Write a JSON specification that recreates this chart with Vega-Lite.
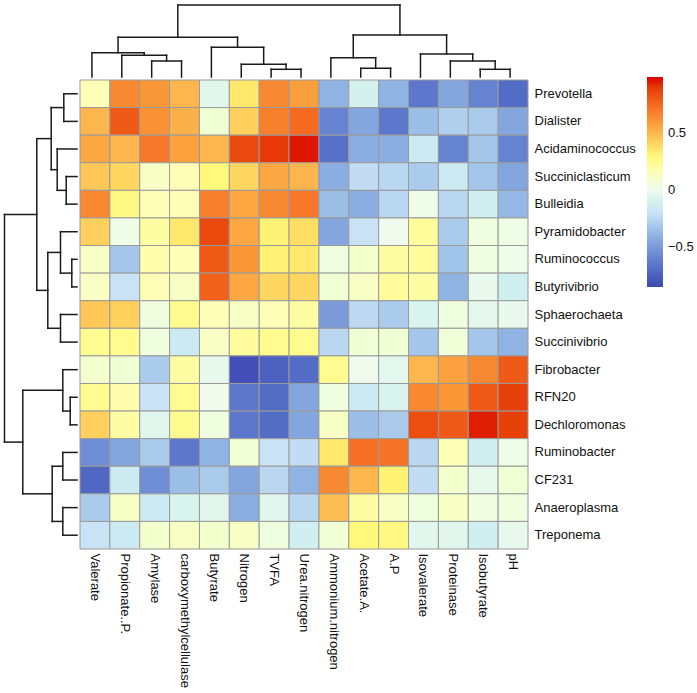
{
  "$schema": "https://vega.github.io/schema/vega-lite/v6.json",
  "background": "white",
  "padding": 0,
  "config": {
    "view": {"stroke": null},
    "concat": {"spacing": 0},
    "font": "Liberation Sans"
  },
  "datasets": {
    "cells": [
      {"r":"Prevotella","c":"Valerate","v":0.15},{"r":"Prevotella","c":"Propionate..P.","v":0.65},{"r":"Prevotella","c":"Amylase","v":0.6},{"r":"Prevotella","c":"carboxymethylcellulase","v":0.5},{"r":"Prevotella","c":"Butyrate","v":-0.05},{"r":"Prevotella","c":"Nitrogen","v":0.35},{"r":"Prevotella","c":"TVFA","v":0.65},{"r":"Prevotella","c":"Urea.nitrogen","v":0.58},{"r":"Prevotella","c":"Ammonium.nitrogen","v":-0.4},{"r":"Prevotella","c":"Acetate.A.","v":-0.1},{"r":"Prevotella","c":"A.P","v":-0.4},{"r":"Prevotella","c":"Isovalerate","v":-0.65},{"r":"Prevotella","c":"Proteinase","v":-0.45},{"r":"Prevotella","c":"Isobutyrate","v":-0.6},{"r":"Prevotella","c":"pH","v":-0.7},
      {"r":"Dialister","c":"Valerate","v":0.5},{"r":"Dialister","c":"Propionate..P.","v":0.8},{"r":"Dialister","c":"Amylase","v":0.62},{"r":"Dialister","c":"carboxymethylcellulase","v":0.52},{"r":"Dialister","c":"Butyrate","v":0.08},{"r":"Dialister","c":"Nitrogen","v":0.42},{"r":"Dialister","c":"TVFA","v":0.68},{"r":"Dialister","c":"Urea.nitrogen","v":0.75},{"r":"Dialister","c":"Ammonium.nitrogen","v":-0.6},{"r":"Dialister","c":"Acetate.A.","v":-0.45},{"r":"Dialister","c":"A.P","v":-0.65},{"r":"Dialister","c":"Isovalerate","v":-0.35},{"r":"Dialister","c":"Proteinase","v":-0.28},{"r":"Dialister","c":"Isobutyrate","v":-0.3},{"r":"Dialister","c":"pH","v":-0.45},
      {"r":"Acidaminococcus","c":"Valerate","v":0.55},{"r":"Acidaminococcus","c":"Propionate..P.","v":0.5},{"r":"Acidaminococcus","c":"Amylase","v":0.7},{"r":"Acidaminococcus","c":"carboxymethylcellulase","v":0.57},{"r":"Acidaminococcus","c":"Butyrate","v":0.5},{"r":"Acidaminococcus","c":"Nitrogen","v":0.85},{"r":"Acidaminococcus","c":"TVFA","v":0.9},{"r":"Acidaminococcus","c":"Urea.nitrogen","v":0.97},{"r":"Acidaminococcus","c":"Ammonium.nitrogen","v":-0.68},{"r":"Acidaminococcus","c":"Acetate.A.","v":-0.42},{"r":"Acidaminococcus","c":"A.P","v":-0.42},{"r":"Acidaminococcus","c":"Isovalerate","v":-0.15},{"r":"Acidaminococcus","c":"Proteinase","v":-0.6},{"r":"Acidaminococcus","c":"Isobutyrate","v":-0.32},{"r":"Acidaminococcus","c":"pH","v":-0.6},
      {"r":"Succiniclasticum","c":"Valerate","v":0.45},{"r":"Succiniclasticum","c":"Propionate..P.","v":0.4},{"r":"Succiniclasticum","c":"Amylase","v":0.12},{"r":"Succiniclasticum","c":"carboxymethylcellulase","v":0.15},{"r":"Succiniclasticum","c":"Butyrate","v":0.3},{"r":"Succiniclasticum","c":"Nitrogen","v":0.4},{"r":"Succiniclasticum","c":"TVFA","v":0.55},{"r":"Succiniclasticum","c":"Urea.nitrogen","v":0.5},{"r":"Succiniclasticum","c":"Ammonium.nitrogen","v":-0.42},{"r":"Succiniclasticum","c":"Acetate.A.","v":-0.22},{"r":"Succiniclasticum","c":"A.P","v":-0.25},{"r":"Succiniclasticum","c":"Isovalerate","v":-0.3},{"r":"Succiniclasticum","c":"Proteinase","v":-0.15},{"r":"Succiniclasticum","c":"Isobutyrate","v":-0.32},{"r":"Succiniclasticum","c":"pH","v":-0.45},
      {"r":"Bulleidia","c":"Valerate","v":0.65},{"r":"Bulleidia","c":"Propionate..P.","v":0.28},{"r":"Bulleidia","c":"Amylase","v":0.15},{"r":"Bulleidia","c":"carboxymethylcellulase","v":0.15},{"r":"Bulleidia","c":"Butyrate","v":0.68},{"r":"Bulleidia","c":"Nitrogen","v":0.55},{"r":"Bulleidia","c":"TVFA","v":0.65},{"r":"Bulleidia","c":"Urea.nitrogen","v":0.7},{"r":"Bulleidia","c":"Ammonium.nitrogen","v":-0.35},{"r":"Bulleidia","c":"Acetate.A.","v":-0.42},{"r":"Bulleidia","c":"A.P","v":-0.25},{"r":"Bulleidia","c":"Isovalerate","v":0.02},{"r":"Bulleidia","c":"Proteinase","v":-0.25},{"r":"Bulleidia","c":"Isobutyrate","v":-0.12},{"r":"Bulleidia","c":"pH","v":-0.38},
      {"r":"Pyramidobacter","c":"Valerate","v":0.42},{"r":"Pyramidobacter","c":"Propionate..P.","v":0.03},{"r":"Pyramidobacter","c":"Amylase","v":0.2},{"r":"Pyramidobacter","c":"carboxymethylcellulase","v":0.35},{"r":"Pyramidobacter","c":"Butyrate","v":0.85},{"r":"Pyramidobacter","c":"Nitrogen","v":0.55},{"r":"Pyramidobacter","c":"TVFA","v":0.32},{"r":"Pyramidobacter","c":"Urea.nitrogen","v":0.38},{"r":"Pyramidobacter","c":"Ammonium.nitrogen","v":-0.45},{"r":"Pyramidobacter","c":"Acetate.A.","v":-0.2},{"r":"Pyramidobacter","c":"A.P","v":0.0},{"r":"Pyramidobacter","c":"Isovalerate","v":0.22},{"r":"Pyramidobacter","c":"Proteinase","v":-0.3},{"r":"Pyramidobacter","c":"Isobutyrate","v":0.05},{"r":"Pyramidobacter","c":"pH","v":0.03},
      {"r":"Ruminococcus","c":"Valerate","v":0.12},{"r":"Ruminococcus","c":"Propionate..P.","v":-0.32},{"r":"Ruminococcus","c":"Amylase","v":0.18},{"r":"Ruminococcus","c":"carboxymethylcellulase","v":0.15},{"r":"Ruminococcus","c":"Butyrate","v":0.8},{"r":"Ruminococcus","c":"Nitrogen","v":0.6},{"r":"Ruminococcus","c":"TVFA","v":0.32},{"r":"Ruminococcus","c":"Urea.nitrogen","v":0.35},{"r":"Ruminococcus","c":"Ammonium.nitrogen","v":0.05},{"r":"Ruminococcus","c":"Acetate.A.","v":0.1},{"r":"Ruminococcus","c":"A.P","v":0.2},{"r":"Ruminococcus","c":"Isovalerate","v":0.22},{"r":"Ruminococcus","c":"Proteinase","v":-0.33},{"r":"Ruminococcus","c":"Isobutyrate","v":0.05},{"r":"Ruminococcus","c":"pH","v":0.02},
      {"r":"Butyrivibrio","c":"Valerate","v":0.12},{"r":"Butyrivibrio","c":"Propionate..P.","v":-0.2},{"r":"Butyrivibrio","c":"Amylase","v":0.15},{"r":"Butyrivibrio","c":"carboxymethylcellulase","v":0.12},{"r":"Butyrivibrio","c":"Butyrate","v":0.78},{"r":"Butyrivibrio","c":"Nitrogen","v":0.55},{"r":"Butyrivibrio","c":"TVFA","v":0.4},{"r":"Butyrivibrio","c":"Urea.nitrogen","v":0.4},{"r":"Butyrivibrio","c":"Ammonium.nitrogen","v":0.08},{"r":"Butyrivibrio","c":"Acetate.A.","v":0.12},{"r":"Butyrivibrio","c":"A.P","v":0.22},{"r":"Butyrivibrio","c":"Isovalerate","v":0.2},{"r":"Butyrivibrio","c":"Proteinase","v":-0.4},{"r":"Butyrivibrio","c":"Isobutyrate","v":-0.02},{"r":"Butyrivibrio","c":"pH","v":-0.12},
      {"r":"Sphaerochaeta","c":"Valerate","v":0.45},{"r":"Sphaerochaeta","c":"Propionate..P.","v":0.42},{"r":"Sphaerochaeta","c":"Amylase","v":0.05},{"r":"Sphaerochaeta","c":"carboxymethylcellulase","v":0.25},{"r":"Sphaerochaeta","c":"Butyrate","v":0.15},{"r":"Sphaerochaeta","c":"Nitrogen","v":0.12},{"r":"Sphaerochaeta","c":"TVFA","v":0.15},{"r":"Sphaerochaeta","c":"Urea.nitrogen","v":0.2},{"r":"Sphaerochaeta","c":"Ammonium.nitrogen","v":-0.5},{"r":"Sphaerochaeta","c":"Acetate.A.","v":-0.24},{"r":"Sphaerochaeta","c":"A.P","v":-0.3},{"r":"Sphaerochaeta","c":"Isovalerate","v":-0.08},{"r":"Sphaerochaeta","c":"Proteinase","v":0.05},{"r":"Sphaerochaeta","c":"Isobutyrate","v":-0.04},{"r":"Sphaerochaeta","c":"pH","v":-0.02},
      {"r":"Succinivibrio","c":"Valerate","v":0.25},{"r":"Succinivibrio","c":"Propionate..P.","v":0.25},{"r":"Succinivibrio","c":"Amylase","v":0.05},{"r":"Succinivibrio","c":"carboxymethylcellulase","v":-0.15},{"r":"Succinivibrio","c":"Butyrate","v":0.12},{"r":"Succinivibrio","c":"Nitrogen","v":0.22},{"r":"Succinivibrio","c":"TVFA","v":0.25},{"r":"Succinivibrio","c":"Urea.nitrogen","v":0.25},{"r":"Succinivibrio","c":"Ammonium.nitrogen","v":-0.25},{"r":"Succinivibrio","c":"Acetate.A.","v":0.08},{"r":"Succinivibrio","c":"A.P","v":0.08},{"r":"Succinivibrio","c":"Isovalerate","v":-0.32},{"r":"Succinivibrio","c":"Proteinase","v":0.07},{"r":"Succinivibrio","c":"Isobutyrate","v":-0.32},{"r":"Succinivibrio","c":"pH","v":-0.4},
      {"r":"Fibrobacter","c":"Valerate","v":0.1},{"r":"Fibrobacter","c":"Propionate..P.","v":0.08},{"r":"Fibrobacter","c":"Amylase","v":-0.3},{"r":"Fibrobacter","c":"carboxymethylcellulase","v":0.2},{"r":"Fibrobacter","c":"Butyrate","v":-0.03},{"r":"Fibrobacter","c":"Nitrogen","v":-0.82},{"r":"Fibrobacter","c":"TVFA","v":-0.75},{"r":"Fibrobacter","c":"Urea.nitrogen","v":-0.7},{"r":"Fibrobacter","c":"Ammonium.nitrogen","v":0.25},{"r":"Fibrobacter","c":"Acetate.A.","v":0.0},{"r":"Fibrobacter","c":"A.P","v":-0.04},{"r":"Fibrobacter","c":"Isovalerate","v":0.5},{"r":"Fibrobacter","c":"Proteinase","v":0.57},{"r":"Fibrobacter","c":"Isobutyrate","v":0.65},{"r":"Fibrobacter","c":"pH","v":0.8},
      {"r":"RFN20","c":"Valerate","v":0.25},{"r":"RFN20","c":"Propionate..P.","v":0.18},{"r":"RFN20","c":"Amylase","v":-0.2},{"r":"RFN20","c":"carboxymethylcellulase","v":0.25},{"r":"RFN20","c":"Butyrate","v":0.0},{"r":"RFN20","c":"Nitrogen","v":-0.65},{"r":"RFN20","c":"TVFA","v":-0.7},{"r":"RFN20","c":"Urea.nitrogen","v":-0.45},{"r":"RFN20","c":"Ammonium.nitrogen","v":0.05},{"r":"RFN20","c":"Acetate.A.","v":-0.16},{"r":"RFN20","c":"A.P","v":-0.08},{"r":"RFN20","c":"Isovalerate","v":0.65},{"r":"RFN20","c":"Proteinase","v":0.6},{"r":"RFN20","c":"Isobutyrate","v":0.8},{"r":"RFN20","c":"pH","v":0.88},
      {"r":"Dechloromonas","c":"Valerate","v":0.42},{"r":"Dechloromonas","c":"Propionate..P.","v":0.2},{"r":"Dechloromonas","c":"Amylase","v":-0.05},{"r":"Dechloromonas","c":"carboxymethylcellulase","v":0.25},{"r":"Dechloromonas","c":"Butyrate","v":0.05},{"r":"Dechloromonas","c":"Nitrogen","v":-0.65},{"r":"Dechloromonas","c":"TVFA","v":-0.7},{"r":"Dechloromonas","c":"Urea.nitrogen","v":-0.45},{"r":"Dechloromonas","c":"Ammonium.nitrogen","v":0.12},{"r":"Dechloromonas","c":"Acetate.A.","v":-0.35},{"r":"Dechloromonas","c":"A.P","v":-0.3},{"r":"Dechloromonas","c":"Isovalerate","v":0.84},{"r":"Dechloromonas","c":"Proteinase","v":0.8},{"r":"Dechloromonas","c":"Isobutyrate","v":0.96},{"r":"Dechloromonas","c":"pH","v":0.88},
      {"r":"Ruminobacter","c":"Valerate","v":-0.55},{"r":"Ruminobacter","c":"Propionate..P.","v":-0.45},{"r":"Ruminobacter","c":"Amylase","v":-0.3},{"r":"Ruminobacter","c":"carboxymethylcellulase","v":-0.65},{"r":"Ruminobacter","c":"Butyrate","v":-0.4},{"r":"Ruminobacter","c":"Nitrogen","v":0.08},{"r":"Ruminobacter","c":"TVFA","v":-0.2},{"r":"Ruminobacter","c":"Urea.nitrogen","v":-0.22},{"r":"Ruminobacter","c":"Ammonium.nitrogen","v":0.35},{"r":"Ruminobacter","c":"Acetate.A.","v":0.73},{"r":"Ruminobacter","c":"A.P","v":0.72},{"r":"Ruminobacter","c":"Isovalerate","v":-0.25},{"r":"Ruminobacter","c":"Proteinase","v":0.15},{"r":"Ruminobacter","c":"Isobutyrate","v":-0.12},{"r":"Ruminobacter","c":"pH","v":0.03},
      {"r":"CF231","c":"Valerate","v":-0.72},{"r":"CF231","c":"Propionate..P.","v":-0.15},{"r":"CF231","c":"Amylase","v":-0.55},{"r":"CF231","c":"carboxymethylcellulase","v":-0.35},{"r":"CF231","c":"Butyrate","v":-0.3},{"r":"CF231","c":"Nitrogen","v":-0.45},{"r":"CF231","c":"TVFA","v":-0.25},{"r":"CF231","c":"Urea.nitrogen","v":-0.4},{"r":"CF231","c":"Ammonium.nitrogen","v":0.65},{"r":"CF231","c":"Acetate.A.","v":0.5},{"r":"CF231","c":"A.P","v":0.32},{"r":"CF231","c":"Isovalerate","v":-0.22},{"r":"CF231","c":"Proteinase","v":0.1},{"r":"CF231","c":"Isobutyrate","v":-0.03},{"r":"CF231","c":"pH","v":0.08},
      {"r":"Anaeroplasma","c":"Valerate","v":-0.3},{"r":"Anaeroplasma","c":"Propionate..P.","v":0.12},{"r":"Anaeroplasma","c":"Amylase","v":-0.15},{"r":"Anaeroplasma","c":"carboxymethylcellulase","v":-0.08},{"r":"Anaeroplasma","c":"Butyrate","v":-0.05},{"r":"Anaeroplasma","c":"Nitrogen","v":-0.42},{"r":"Anaeroplasma","c":"TVFA","v":-0.05},{"r":"Anaeroplasma","c":"Urea.nitrogen","v":-0.25},{"r":"Anaeroplasma","c":"Ammonium.nitrogen","v":0.48},{"r":"Anaeroplasma","c":"Acetate.A.","v":0.2},{"r":"Anaeroplasma","c":"A.P","v":0.12},{"r":"Anaeroplasma","c":"Isovalerate","v":0.05},{"r":"Anaeroplasma","c":"Proteinase","v":0.12},{"r":"Anaeroplasma","c":"Isobutyrate","v":0.05},{"r":"Anaeroplasma","c":"pH","v":0.05},
      {"r":"Treponema","c":"Valerate","v":-0.2},{"r":"Treponema","c":"Propionate..P.","v":-0.15},{"r":"Treponema","c":"Amylase","v":0.1},{"r":"Treponema","c":"carboxymethylcellulase","v":0.12},{"r":"Treponema","c":"Butyrate","v":0.1},{"r":"Treponema","c":"Nitrogen","v":0.12},{"r":"Treponema","c":"TVFA","v":0.05},{"r":"Treponema","c":"Urea.nitrogen","v":-0.12},{"r":"Treponema","c":"Ammonium.nitrogen","v":0.08},{"r":"Treponema","c":"Acetate.A.","v":0.3},{"r":"Treponema","c":"A.P","v":0.28},{"r":"Treponema","c":"Isovalerate","v":-0.05},{"r":"Treponema","c":"Proteinase","v":-0.05},{"r":"Treponema","c":"Isobutyrate","v":-0.12},{"r":"Treponema","c":"pH","v":-0.03}
    ],
    "coldend": [
      {"x":2.5,"x2":3.5,"y":16,"y2":16},{"x":2.5,"x2":2.5,"y":0,"y2":16},{"x":3.5,"x2":3.5,"y":0,"y2":16},
      {"x":1.5,"x2":3.0,"y":21.7,"y2":21.7},{"x":1.5,"x2":1.5,"y":0,"y2":21.7},{"x":3.0,"x2":3.0,"y":16,"y2":21.7},
      {"x":0.5,"x2":2.25,"y":24.3,"y2":24.3},{"x":0.5,"x2":0.5,"y":0,"y2":24.3},{"x":2.25,"x2":2.25,"y":21.7,"y2":24.3},
      {"x":6.5,"x2":7.5,"y":7.7,"y2":7.7},{"x":6.5,"x2":6.5,"y":0,"y2":7.7},{"x":7.5,"x2":7.5,"y":0,"y2":7.7},
      {"x":5.5,"x2":7.0,"y":12.7,"y2":12.7},{"x":5.5,"x2":5.5,"y":0,"y2":12.7},{"x":7.0,"x2":7.0,"y":7.7,"y2":12.7},
      {"x":4.5,"x2":6.25,"y":29.7,"y2":29.7},{"x":4.5,"x2":4.5,"y":0,"y2":29.7},{"x":6.25,"x2":6.25,"y":12.7,"y2":29.7},
      {"x":1.375,"x2":5.375,"y":39.7,"y2":39.7},{"x":1.375,"x2":1.375,"y":24.3,"y2":39.7},{"x":5.375,"x2":5.375,"y":29.7,"y2":39.7},
      {"x":9.5,"x2":10.5,"y":8.7,"y2":8.7},{"x":9.5,"x2":9.5,"y":0,"y2":8.7},{"x":10.5,"x2":10.5,"y":0,"y2":8.7},
      {"x":8.5,"x2":10.0,"y":19.3,"y2":19.3},{"x":8.5,"x2":8.5,"y":0,"y2":19.3},{"x":10.0,"x2":10.0,"y":8.7,"y2":19.3},
      {"x":13.5,"x2":14.5,"y":7.7,"y2":7.7},{"x":13.5,"x2":13.5,"y":0,"y2":7.7},{"x":14.5,"x2":14.5,"y":0,"y2":7.7},
      {"x":12.5,"x2":14.0,"y":16,"y2":16},{"x":12.5,"x2":12.5,"y":0,"y2":16},{"x":14.0,"x2":14.0,"y":7.7,"y2":16},
      {"x":11.5,"x2":13.25,"y":23,"y2":23},{"x":11.5,"x2":11.5,"y":0,"y2":23},{"x":13.25,"x2":13.25,"y":16,"y2":23},
      {"x":9.25,"x2":12.375,"y":42,"y2":42},{"x":9.25,"x2":9.25,"y":19.3,"y2":42},{"x":12.375,"x2":12.375,"y":23,"y2":42},
      {"x":3.375,"x2":10.8125,"y":72,"y2":72},{"x":3.375,"x2":3.375,"y":39.7,"y2":72},{"x":10.8125,"x2":10.8125,"y":42,"y2":72}
    ],
    "rowdend": [
      {"y":0.5,"y2":1.5,"x":13.2,"x2":13.2},{"y":0.5,"y2":0.5,"x":0,"x2":13.2},{"y":1.5,"y2":1.5,"x":0,"x2":13.2},
      {"y":3.5,"y2":4.5,"x":10.8,"x2":10.8},{"y":3.5,"y2":3.5,"x":0,"x2":10.8},{"y":4.5,"y2":4.5,"x":0,"x2":10.8},
      {"y":2.5,"y2":4.0,"x":19.8,"x2":19.8},{"y":2.5,"y2":2.5,"x":0,"x2":19.8},{"y":4.0,"y2":4.0,"x":10.8,"x2":19.8},
      {"y":1.0,"y2":3.25,"x":25.8,"x2":25.8},{"y":1.0,"y2":1.0,"x":13.2,"x2":25.8},{"y":3.25,"y2":3.25,"x":19.8,"x2":25.8},
      {"y":6.5,"y2":7.5,"x":5.2,"x2":5.2},{"y":6.5,"y2":6.5,"x":0,"x2":5.2},{"y":7.5,"y2":7.5,"x":0,"x2":5.2},
      {"y":5.5,"y2":7.0,"x":16.5,"x2":16.5},{"y":5.5,"y2":5.5,"x":0,"x2":16.5},{"y":7.0,"y2":7.0,"x":5.2,"x2":16.5},
      {"y":8.5,"y2":9.5,"x":16.5,"x2":16.5},{"y":8.5,"y2":8.5,"x":0,"x2":16.5},{"y":9.5,"y2":9.5,"x":0,"x2":16.5},
      {"y":6.25,"y2":9.0,"x":29.2,"x2":29.2},{"y":6.25,"y2":6.25,"x":16.5,"x2":29.2},{"y":9.0,"y2":9.0,"x":16.5,"x2":29.2},
      {"y":2.125,"y2":7.625,"x":40.2,"x2":40.2},{"y":2.125,"y2":2.125,"x":25.8,"x2":40.2},{"y":7.625,"y2":7.625,"x":29.2,"x2":40.2},
      {"y":11.5,"y2":12.5,"x":6.8,"x2":6.8},{"y":11.5,"y2":11.5,"x":0,"x2":6.8},{"y":12.5,"y2":12.5,"x":0,"x2":6.8},
      {"y":10.5,"y2":12.0,"x":14.2,"x2":14.2},{"y":10.5,"y2":10.5,"x":0,"x2":14.2},{"y":12.0,"y2":12.0,"x":6.8,"x2":14.2},
      {"y":13.5,"y2":14.5,"x":14.2,"x2":14.2},{"y":13.5,"y2":13.5,"x":0,"x2":14.2},{"y":14.5,"y2":14.5,"x":0,"x2":14.2},
      {"y":15.5,"y2":16.5,"x":14.2,"x2":14.2},{"y":15.5,"y2":15.5,"x":0,"x2":14.2},{"y":16.5,"y2":16.5,"x":0,"x2":14.2},
      {"y":14.0,"y2":16.0,"x":24.8,"x2":24.8},{"y":14.0,"y2":14.0,"x":14.2,"x2":24.8},{"y":16.0,"y2":16.0,"x":14.2,"x2":24.8},
      {"y":11.25,"y2":15.0,"x":54.2,"x2":54.2},{"y":11.25,"y2":11.25,"x":14.2,"x2":54.2},{"y":15.0,"y2":15.0,"x":24.8,"x2":54.2},
      {"y":4.875,"y2":13.125,"x":72.5,"x2":72.5},{"y":4.875,"y2":4.875,"x":40.2,"x2":72.5},{"y":13.125,"y2":13.125,"x":54.2,"x2":72.5}
    ]
  },
  "spacing": 0,
  "vconcat": [
    {
      "spacing": 0,
      "hconcat": [
        {
          "width": 77, "height": 77,
          "data": {"values": [{}]},
          "mark": {"type": "text", "text": ""},
          "encoding": {}
        },
        {
          "width": 448, "height": 77,
          "data": {"name": "coldend"},
          "mark": {"type": "rule", "color": "#1a1a1a", "strokeWidth": 1.5, "strokeCap": "square"},
          "encoding": {
            "x": {"field": "x", "type": "quantitative", "scale": {"domain": [0, 15], "nice": false, "zero": false}, "axis": null},
            "x2": {"field": "x2"},
            "y": {"field": "y", "type": "quantitative", "scale": {"domain": [0, 77], "nice": false}, "axis": null},
            "y2": {"field": "y2"}
          }
        }
      ]
    },
    {
      "spacing": 0,
      "hconcat": [
        {
          "width": 77, "height": 469,
          "data": {"name": "rowdend"},
          "mark": {"type": "rule", "color": "#1a1a1a", "strokeWidth": 1.5, "strokeCap": "square"},
          "encoding": {
            "x": {"field": "x", "type": "quantitative", "scale": {"domain": [0, 77], "nice": false, "reverse": true}, "axis": null},
            "x2": {"field": "x2"},
            "y": {"field": "y", "type": "quantitative", "scale": {"domain": [0, 17], "nice": false, "zero": false, "reverse": true}, "axis": null},
            "y2": {"field": "y2"}
          }
        },
        {
          "width": 448, "height": 469,
          "data": {"name": "cells"},
          "mark": {"type": "rect", "stroke": "#9a9a9a", "strokeWidth": 1},
          "encoding": {
            "x": {
              "field": "c", "type": "nominal", "sort": null,
              "scale": {"paddingInner": 0, "paddingOuter": 0},
              "axis": {"orient": "bottom", "title": null, "labelAngle": 90, "ticks": false, "domain": false, "labelPadding": 4, "labelFontSize": 13, "labelFont": "Liberation Sans", "labelColor": "#111111"}
            },
            "y": {
              "field": "r", "type": "nominal", "sort": null,
              "scale": {"paddingInner": 0, "paddingOuter": 0},
              "axis": {"orient": "right", "title": null, "ticks": false, "domain": false, "labelPadding": 6, "labelFontSize": 13, "labelFont": "Liberation Sans", "labelColor": "#111111"}
            },
            "color": {
              "field": "v", "type": "quantitative",
              "scale": {
                "type": "linear",
                "domain": [-0.85, -0.5, -0.2, 0, 0.15, 0.3, 0.5, 0.7, 0.85, 0.99],
                "range": ["#3f48b2", "#7a9ada", "#c9e2f5", "#f0fbee", "#ffffb8", "#fff87a", "#fdb64e", "#f7782a", "#eb4a0e", "#dd0000"]
              },
              "legend": {
                "orient": "none", "legendX": 647, "legendY": 77,
                "title": null, "direction": "vertical",
                "gradientLength": 210, "gradientThickness": 16, "gradientStrokeWidth": 0,
                "values": [-0.5, 0, 0.5], "format": ".1~f",
                "labelFontSize": 13, "labelFont": "Liberation Sans", "labelColor": "#111111", "labelOffset": 5
              }
            }
          }
        }
      ]
    }
  ]
}
